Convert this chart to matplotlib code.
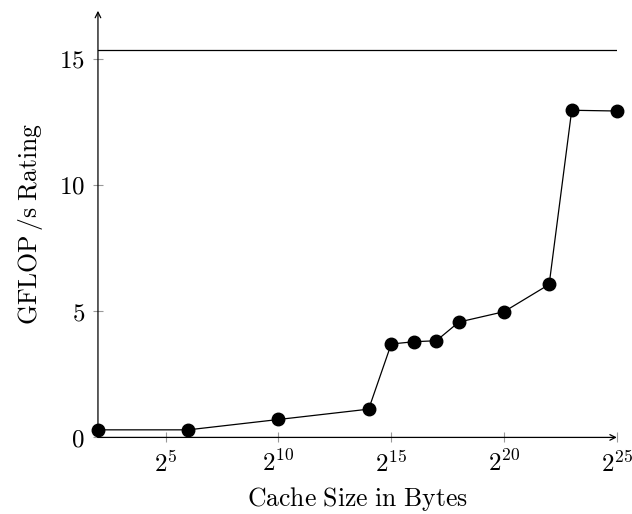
import math
import matplotlib
matplotlib.use("Agg")
import matplotlib.pyplot as plt
from matplotlib.ticker import FuncFormatter, FixedLocator

plt.rcParams["mathtext.fontset"] = "cm"
plt.rcParams["font.family"] = ["DejaVu Serif"]

# cache size exponents (bytes = 2**exp) and measured GFLOP/s
cache_exp = [2, 6, 10, 14, 15, 16, 17, 18, 20, 22, 23, 25]
gflops = [0.30, 0.30, 0.71, 1.12, 3.70, 3.79, 3.83, 4.57, 4.98, 6.06, 12.96, 12.93]
peak_rating = 15.36
x_tick_exp = [5, 10, 15, 20, 25]
y_ticks = [0, 5, 10, 15]

cache_bytes = [2 ** e for e in cache_exp]

fig = plt.figure(figsize=(6.32, 5.14), dpi=100)
ax = fig.add_axes([0.155, 0.149, 0.821, 0.83])

ax.set_xscale("log", base=2)
ax.plot(cache_bytes, gflops, color="black", lw=0.9, marker="o",
        markersize=9, clip_on=False, zorder=3)
ax.plot([2 ** 2, 2 ** 25], [peak_rating, peak_rating], color="black", lw=0.9)

ax.set_xlim(2 ** 2, 2 ** 25)
ax.set_ylim(0, 16.9)

ax.xaxis.set_major_locator(FixedLocator([2 ** e for e in x_tick_exp]))
ax.xaxis.set_minor_locator(FixedLocator([]))
ax.xaxis.set_major_formatter(FuncFormatter(
    lambda v, p: r"$2^{%d}$" % round(math.log2(v))))
ax.set_yticks(y_ticks)
ax.yaxis.set_major_formatter(FuncFormatter(lambda v, p: r"$%d$" % v))

ax.tick_params(direction="inout", length=7, width=0.8, color="#999999",
               labelsize=18, pad=6)

for s in ["top", "right", "bottom", "left"]:
    ax.spines[s].set_visible(False)

arrow = dict(arrowstyle="->", lw=0.9, color="black", shrinkA=0, shrinkB=0)
ax.annotate("", xy=(1.0, 0), xytext=(0, 0), xycoords="axes fraction",
            arrowprops=arrow)
ax.annotate("", xy=(0, 1.0), xytext=(0, 0), xycoords="axes fraction",
            arrowprops=arrow)

ax.set_xlabel(r"$\mathrm{Cache\ Size\ in\ Bytes}$", fontsize=18.5, labelpad=6)
ax.set_ylabel(r"$\mathrm{GFLOP\,/s\ Rating}$", fontsize=18.5, labelpad=10)

fig.savefig("out.png", dpi=100)
